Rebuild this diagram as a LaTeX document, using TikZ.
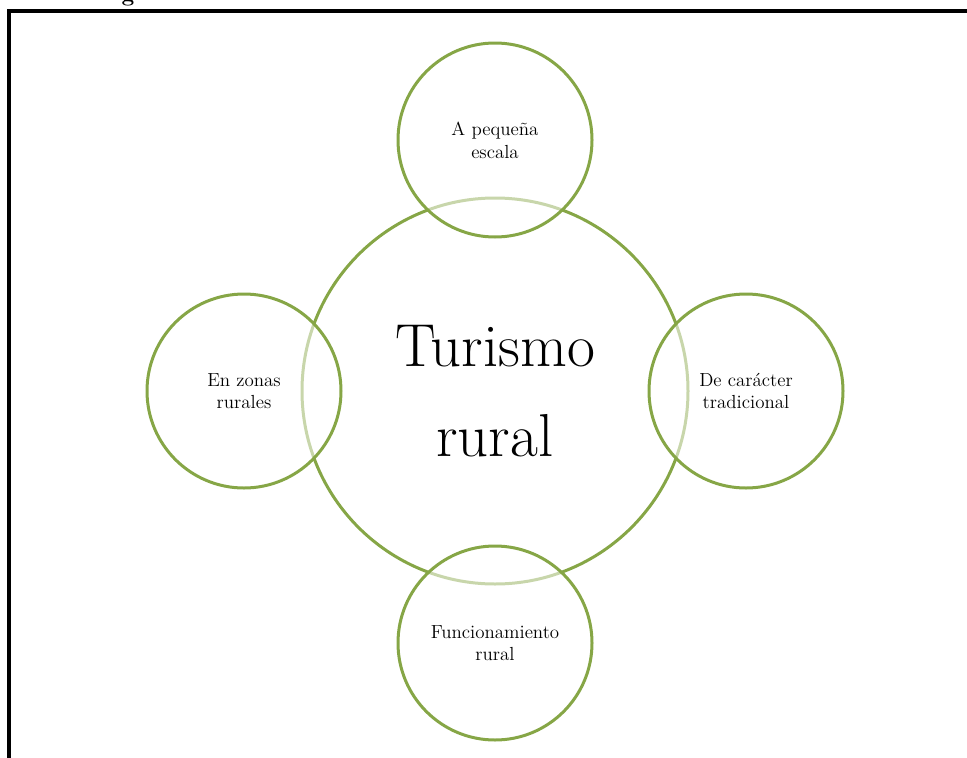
\documentclass[tikz,border=0pt]{standalone}
\usepackage{xcolor}
\definecolor{olivegreen}{RGB}{134,166,70}
\begin{document}
\begin{tikzpicture}[x=0.75pt,y=-0.75pt,
  ring/.style={circle, draw=olivegreen, line width=2.25pt, inner sep=0pt, align=center},
  smallring/.style={ring, minimum size=145.5pt, fill=white, fill opacity=0.55, text opacity=1,
     font=\fontsize{14.2}{17}\selectfont},
  bigring/.style={ring, minimum size=289.5pt, font=\fontsize{45.5}{68}\selectfont},
  frameline/.style={line width=2.4pt, black}]
\useasboundingbox (0,0) rectangle (967,757);
% cut-off caption fragment above the frame
\node[anchor=base, inner sep=0pt, font=\bfseries\fontsize{17}{20}\selectfont] (cap) at (128,1) {g};
% frame
\coordinate (fbl) at (9,760);
\coordinate (ftl) at (9,11);
\coordinate (ftr) at (970,11);
\draw[frameline] (fbl) -- (ftl) -- (ftr);
% central circle
\node[bigring] (center) at (495,391) {Turismo\\rural};
% satellites
\node[smallring] (top) at (495,140) {A pequeña\\escala};
\node[smallring] (left) at (244,391) {En zonas\\rurales};
\node[smallring] (right) at (746,391) {De carácter\\tradicional};
\node[smallring] (bottom) at (495,643) {Funcionamiento\\rural};
\end{tikzpicture}
\end{document}
